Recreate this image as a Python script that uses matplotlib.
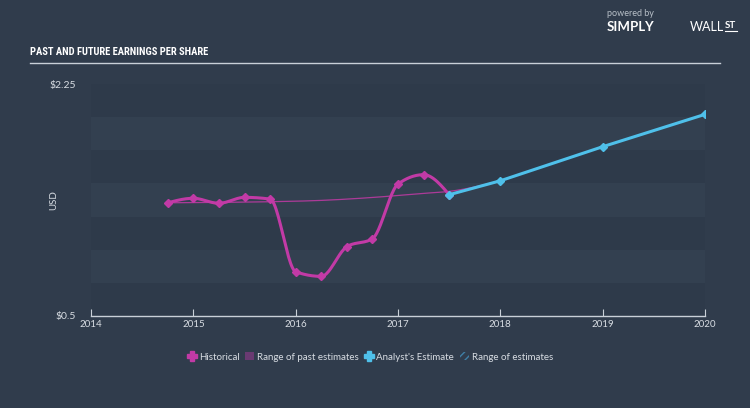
import numpy as np
import matplotlib
matplotlib.use("Agg")
import matplotlib.pyplot as plt
from matplotlib.lines import Line2D
from matplotlib.patches import Patch
from matplotlib import font_manager

# ---- data ----
hist_years = [2014.75, 2015.0, 2015.25, 2015.5, 2015.75, 2016.0, 2016.25,
              2016.5, 2016.75, 2017.0, 2017.25, 2017.5]
hist_eps = [1.354, 1.388, 1.350, 1.395, 1.382, 0.834, 0.799,
            1.023, 1.083, 1.495, 1.566, 1.415]

past_est_years = [2014.75, 2015.25, 2015.75, 2016.25, 2016.75, 2017.25, 2017.5, 2018.0]
past_est_eps = [1.354, 1.357, 1.362, 1.372, 1.394, 1.425, 1.44, 1.52]

est_years = [2017.5, 2018.0, 2019.0, 2020.0]
est_eps = [1.415, 1.520, 1.777, 2.021]

x_ticks = [2014, 2015, 2016, 2017, 2018, 2019, 2020]
y_min, y_max = 0.5, 2.25
y_tick_labels = ["$0.5", "$2.25"]

title = "PAST AND FUTURE EARNINGS PER SHARE"

# ---- style ----
BG = "#303c4c"
BAND_DARK = "#2e3a4a"
BAND_LIGHT = "#334050"
MAGENTA = "#c23aa6"
BLUE = "#4fc0ea"
TXT = "#d8dde3"

avail = {f.name for f in font_manager.fontManager.ttflist}
title_family = "DejaVu Sans"
for cand in ["Liberation Sans Narrow", "DejaVu Sans Condensed", "Roboto Condensed",
             "Open Sans Condensed", "Noto Sans Condensed", "Roboto"]:
    if cand in avail:
        title_family = cand
        break


def monotone(x, y, n=25):
    x = np.asarray(x, float)
    y = np.asarray(y, float)
    h = np.diff(x)
    s = np.diff(y) / h
    m = np.zeros_like(y)
    for i in range(1, len(x) - 1):
        if s[i - 1] * s[i] <= 0:
            m[i] = 0.0
        else:
            p = (s[i - 1] * h[i] + s[i] * h[i - 1]) / (h[i - 1] + h[i])
            m[i] = (np.sign(s[i - 1]) + np.sign(s[i])) * min(abs(s[i - 1]), abs(s[i]), 0.5 * abs(p))
    m[0] = (3 * s[0] - m[1]) / 2
    m[-1] = (3 * s[-1] - m[-2]) / 2
    xs, ys = [], []
    for i in range(len(x) - 1):
        t = np.linspace(0, 1, n, endpoint=(i == len(x) - 2))
        h00 = 2 * t**3 - 3 * t**2 + 1
        h10 = t**3 - 2 * t**2 + t
        h01 = -2 * t**3 + 3 * t**2
        h11 = t**3 - t**2
        xs.append(x[i] + t * h[i])
        ys.append(h00 * y[i] + h10 * h[i] * m[i] + h01 * y[i + 1] + h11 * h[i] * m[i + 1])
    return np.concatenate(xs), np.concatenate(ys)


fig = plt.figure(figsize=(7.5, 4.08), dpi=100, facecolor=BG)
ax = fig.add_axes([91 / 750, (408 - 316) / 408, 614 / 750, 232 / 408])
ax.set_facecolor(BG)
ax.set_xlim(x_ticks[0], x_ticks[-1])
ax.set_ylim(y_min, y_max)

# bands
step = (y_max - y_min) / 7
for i in range(7):
    col = BAND_DARK if i % 2 == 0 else BAND_LIGHT
    ax.axhspan(y_min + i * step, y_min + (i + 1) * step, color=col, lw=0, zorder=0)

# past estimate thin line
px, py = monotone(past_est_years, past_est_eps)
ax.plot(px, py, color=MAGENTA, lw=0.9, alpha=0.85, zorder=2)

# historical
hx, hy = monotone(hist_years, hist_eps)
ax.plot(hx, hy, color=MAGENTA, lw=2.2, zorder=3, solid_capstyle="round")
ax.plot(hist_years, hist_eps, linestyle="none", marker="D", ms=4.5,
        color=MAGENTA, zorder=4)

# estimate
ax.plot(est_years, est_eps, color=BLUE, lw=2.2, marker="D", ms=4.5, zorder=5)

# axes styling
for sp in ["top", "right", "left"]:
    ax.spines[sp].set_visible(False)
ax.spines["bottom"].set_color("#c9d0d8")
ax.spines["bottom"].set_linewidth(1.0)
ax.set_xticks(x_ticks)
ax.set_xticklabels([str(v) for v in x_ticks], fontsize=7, color=TXT, family="Lato")
ax.tick_params(axis="x", direction="in", length=5, color="#c9d0d8", pad=3)
ax.set_yticks([y_min, y_max])
ax.set_yticklabels(y_tick_labels, fontsize=7.5, color=TXT, family="Lato")
ax.tick_params(axis="y", length=0, pad=11)
ax.set_ylabel("USD", fontsize=7, color=TXT, family="Lato")
ax.yaxis.set_label_coords((58 - 91) / 614, 0.5)

# title and rule
ttl = fig.text(30 / 750, 1 - 52 / 408, title, fontsize=10, fontweight="bold",
               color="white", family=title_family, va="center", ha="left")
fig.canvas.draw()
w = ttl.get_window_extent().width
if w > 0:
    ttl.set_fontsize(max(7.5, min(11, 10 * 178 / w)))
fig.add_artist(Line2D([30 / 750, 720 / 750], [1 - 63 / 408, 1 - 63 / 408],
                      color="#c9d0d8", lw=1.0))

# logo text
fig.text(607 / 750, 1 - 14 / 408, "powered by", fontsize=6.5, color="#b8c0c8",
         family="Lato", va="center", ha="left")
fig.text(607 / 750, 1 - 27 / 408, "SIMPLY", fontsize=9.5, color="white",
         family="Lato", fontweight="bold", va="center", ha="left")
fig.text(690 / 750, 1 - 27 / 408, "WALL", fontsize=9, color="white",
         family="Lato", va="center", ha="left")
fig.text(725 / 750, 1 - 25 / 408, "ST", fontsize=7, color="white",
         family="Lato", fontweight="bold", va="center", ha="left")
fig.add_artist(Line2D([725 / 750, 737 / 750], [1 - 31 / 408, 1 - 31 / 408],
                      color="white", lw=0.8))

# legend
handles = [
    Line2D([], [], color=MAGENTA, marker="P", ms=7, lw=0),
    Patch(facecolor="#6a3a72", edgecolor="none"),
    Line2D([], [], color=BLUE, marker="P", ms=7, lw=0),
    Patch(facecolor="none", edgecolor="#3f7fa6", hatch="////", lw=0),
]
labels = ["Historical", "Range of past estimates", "Analyst's Estimate", "Range of estimates"]
leg = fig.legend(handles, labels, loc="center", bbox_to_anchor=(370 / 750, 1 - 357 / 408),
                 ncol=4, frameon=False, handlelength=0.9, handleheight=0.9,
                 handletextpad=0.3, columnspacing=0.6,
                 prop={"family": "Lato", "size": 7})
for t in leg.get_texts():
    t.set_color(TXT)

fig.savefig("out.png", dpi=100, facecolor=BG)
